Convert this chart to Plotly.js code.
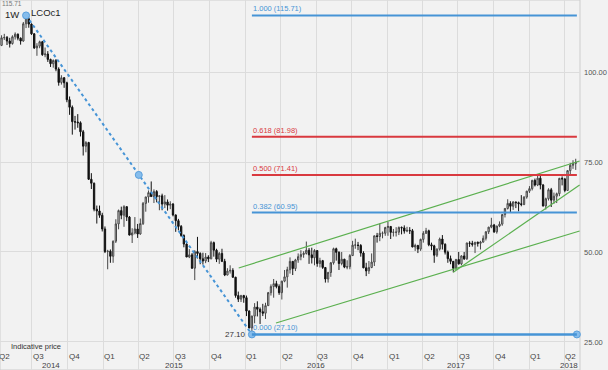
<!DOCTYPE html>
<html>
<head>
<meta charset="utf-8">
<script src="https://cdn.plot.ly/plotly-3.0.1.min.js"></script>
<style>
html,body{margin:0;padding:0;background:#f2f2f2;}
#chart{width:608px;height:370px;outline:1px solid #bdbdbd;outline-offset:-1px;position:relative;}
</style>
</head>
<body>
<div id="chart"></div>
<script>
// ---- Weekly OHLC rows [open, high, low, close], weeks starting Monday 2014-04-14 ----
const ohlc2014 = [
[107.4,110.2,107.2,109.5],[109.5,110.6,108.9,109.6],[109.6,110.0,107.5,108.6],[108.6,109.5,106.8,107.9],
[107.9,110.2,107.6,109.8],[109.8,111.0,109.0,110.5],[110.5,110.7,108.8,109.4],[109.4,109.6,107.6,108.6],
[108.6,113.9,108.4,113.4],[113.4,115.71,112.2,114.8],[114.8,115.2,112.3,113.3],[113.3,113.5,110.3,110.6],
[110.6,110.8,106.4,106.7],[106.7,108.0,104.5,107.2],[107.2,108.7,106.6,108.4],[108.4,108.6,104.5,104.8],
[104.8,106.8,104.1,105.0],[105.0,105.8,102.8,103.5],[103.5,103.7,101.4,102.3],[102.3,103.5,101.2,103.2],
[103.2,103.6,100.2,100.8],[100.8,101.3,96.2,97.1],[97.1,99.1,96.5,98.4],[98.4,98.6,95.6,97.0],
[97.0,97.3,91.6,92.3],[92.3,93.2,88.1,90.2],[90.2,90.7,82.6,86.2],[86.2,87.8,84.0,86.1],
[86.1,88.3,84.5,85.9],[85.9,86.3,82.1,83.4],[83.4,83.9,76.8,79.4],[79.4,80.8,77.7,80.4],
[80.4,80.6,70.0,70.2],[70.2,71.9,67.5,69.1],[69.1,69.3,61.3,61.9],[61.9,62.9,57.9,61.4],
[61.4,62.9,59.5,60.2],[60.2,60.9,55.7,56.4]
];
const ohlc2015 = [
[56.4,57.1,49.7,50.1],[50.1,50.6,45.2,50.2],[50.2,50.7,47.0,48.8],[48.8,53.2,47.0,53.0],
[53.0,59.1,52.5,57.8],[57.8,61.8,56.3,61.5],[61.5,62.6,59.1,60.2],[60.2,63.0,57.0,62.6],
[62.6,62.6,58.6,59.7],[59.7,60.0,54.6,54.7],[54.7,56.6,52.5,55.3],[55.3,59.7,54.9,56.4],
[56.4,57.8,53.9,55.0],[55.0,59.3,54.8,57.9],[57.9,63.9,57.5,63.5],[63.5,65.3,61.2,65.3],
[65.3,67.1,63.7,66.5],[66.5,69.6,65.6,65.4],[65.4,67.4,63.6,66.8],[66.8,67.2,63.8,65.4],
[65.4,65.6,61.6,65.6],[65.6,66.2,61.6,63.3],[63.3,65.8,62.2,63.9],[63.9,64.6,61.5,63.0],
[63.0,64.1,61.9,63.3],[63.3,63.6,59.9,60.3],[60.3,60.4,55.6,58.7],[58.7,59.2,56.0,57.1],
[57.1,57.5,54.2,54.6],[54.6,54.9,51.3,52.2],[52.2,52.5,48.6,48.6],[48.6,50.8,48.3,49.2],
[49.2,49.7,45.3,45.5],[45.5,50.5,42.2,50.1],[50.1,54.2,48.2,49.6],[49.6,49.9,46.6,48.1],
[48.1,49.8,46.5,47.5],[47.5,49.7,46.9,48.6],[48.6,49.1,47.2,48.1],[48.1,53.1,48.0,52.6],
[52.6,52.9,48.7,50.5],[50.5,50.9,47.2,48.0],[48.0,50.0,46.7,49.6],[49.6,50.9,47.2,47.4],
[47.4,48.1,43.3,43.6],[43.6,45.5,43.5,44.7],[44.7,46.3,44.0,44.9],[44.9,45.5,42.8,43.0],
[43.0,43.1,37.3,37.9],[37.9,39.0,36.1,36.9],[36.9,38.1,36.1,37.9],[37.9,38.1,35.9,37.3]
];
const ohlc2016 = [
[37.3,37.9,32.2,33.6],[33.6,33.8,28.8,28.9],[28.9,32.3,27.10,32.2],[32.2,35.8,30.2,34.7],
[34.7,36.3,32.1,34.1],[34.1,34.6,30.0,33.4],[33.4,35.6,32.2,33.0],[33.0,35.9,31.4,35.1],
[35.1,38.9,35.0,38.7],[38.7,41.0,37.9,40.4],[40.4,42.5,37.3,41.2],[41.2,42.0,39.9,40.4],
[40.4,41.0,38.1,38.7],[38.7,42.0,36.8,41.9],[41.9,45.0,41.6,43.1],[43.1,45.9,40.1,45.1],
[45.1,48.5,44.0,47.4],[47.4,47.4,43.6,45.4],[45.4,48.1,44.7,47.8],[47.8,49.6,47.0,48.7],
[48.7,50.5,47.7,49.3],[49.3,50.2,48.4,49.6],[49.6,52.9,49.3,50.5],[50.5,51.1,46.7,49.2],
[49.2,51.2,46.8,48.4],[48.4,50.8,46.3,50.4],[50.4,50.4,45.9,46.8],[46.8,48.4,45.7,47.6],
[47.6,47.8,45.3,45.7],[45.7,45.8,41.5,42.5],[42.5,44.5,41.5,44.3],[44.3,47.2,43.1,47.0],
[47.0,51.2,46.5,50.9],[50.9,51.2,47.6,49.9],[49.9,50.2,45.0,46.8],[46.8,50.0,46.3,48.0],
[48.0,48.1,45.5,45.8],[45.8,47.7,45.2,45.9],[45.9,49.4,45.2,49.0],[49.0,53.1,48.9,51.9],
[51.9,53.7,50.9,51.95],[51.95,52.8,50.5,51.8],[51.8,52.2,48.7,49.7],[49.7,50.2,45.5,45.6],
[45.6,47.0,43.3,44.75],[44.75,47.5,43.9,45.7],[45.7,49.6,45.5,47.2],[47.2,54.5,46.1,54.5],
[54.5,55.3,52.6,54.3],[54.3,57.9,53.0,55.2],[55.2,55.7,53.8,55.2],[55.2,57.0,54.5,56.8]
];
const ohlc2017 = [
[56.8,58.4,54.5,57.1],[57.1,57.1,53.6,55.45],[55.45,56.4,54.3,55.5],[55.5,56.9,54.3,55.5],
[55.5,57.1,54.7,56.8],[56.8,57.1,54.9,56.7],[56.7,57.4,55.1,55.8],[55.8,57.0,55.5,56.0],
[56.0,56.9,55.0,55.9],[55.9,56.4,51.3,51.4],[51.4,52.3,50.3,51.8],[51.8,52.0,49.7,50.8],
[50.8,53.7,50.3,53.5],[53.5,55.8,52.6,55.2],[55.2,56.7,55.0,55.9],[55.9,56.2,51.6,52.0],
[52.0,52.6,50.5,51.7],[51.7,52.0,47.0,49.1],[49.1,51.0,48.6,50.8],[50.8,54.0,50.4,53.6],
[53.6,54.7,50.7,52.15],[52.15,52.4,49.3,49.95],[49.95,50.4,47.0,48.15],[48.15,49.0,46.6,47.4],
[47.4,47.5,44.35,45.5],[45.5,48.1,45.0,47.9],[47.9,50.0,46.5,46.7],[46.7,49.1,46.3,48.9],
[48.9,50.0,47.8,48.1],[48.1,52.6,47.8,52.5],[52.5,53.0,51.4,52.4],[52.4,53.1,51.5,52.1],
[52.1,52.8,49.7,52.7],[52.7,52.9,51.5,52.4],[52.4,53.1,50.7,52.75],[52.75,54.6,52.6,53.8],
[53.8,55.8,53.2,55.6],[55.6,57.0,55.0,56.9],[56.9,59.5,56.6,57.5],[57.5,57.8,55.3,55.6],
[55.6,57.3,55.1,57.2],[57.2,58.5,56.9,57.75],[57.75,60.5,57.3,60.4],[60.4,62.2,59.6,62.1],
[62.1,64.65,61.8,63.5],[63.5,64.1,61.1,62.7],[62.7,64.1,61.7,63.9],[63.9,64.0,62.2,63.7],
[63.7,64.0,61.3,63.4],[63.4,65.8,62.7,63.2],[63.2,65.5,63.0,65.25],[65.25,67.0,64.8,66.9]
];
const ohlc2018 = [
[66.9,68.3,66.4,67.6],[67.6,70.05,67.1,69.9],[69.9,70.4,68.2,68.6],[68.6,71.3,68.3,70.5],
[70.5,71.3,67.4,68.6],[68.6,68.9,62.6,62.8],[62.8,65.1,61.8,64.8],[64.8,67.7,64.3,67.3],
[67.3,67.8,62.5,64.4],[64.4,66.5,63.4,65.5],[65.5,66.5,63.6,66.2],[66.2,70.6,65.5,70.45],
[70.45,71.0,68.5,70.3],[70.3,70.5,66.6,67.1],[67.1,72.7,67.0,72.6],[72.6,74.75,71.4,74.1],
[74.1,75.5,73.1,74.6],[74.6,75.9,72.8,74.9]
];
const firstWeek = '2014-04-14';

// ---- Fibonacci retracement ----
const fibRatios = ['1.000','0.618','0.500','0.382','0.000'];
const fibPrices = [115.71, 81.98, 71.41, 60.95, 27.10];
const fibStart = '2016-01-18';
const fibEnd = '2018-05-03';
// swing high -> swing low (dashed) with midpoint
const swingDates = ['2014-06-16', '2015-04-02', '2016-01-18'];
const swingPrices = [115.71, 71.41, 27.10];

// ---- Trend lines [startDate, startPrice, endDate, endPrice] ----
const upperChannel = ['2015-12-15', 45.56, '2018-05-10', 75.28];
const lowerChannel = ['2016-03-20', 30.28, '2018-05-10', 55.83];
const steepTrend  = ['2017-06-19', 44.35, '2018-05-10', 68.61];

// ---- Axis labels ----
const quarterDates = ['2014-07-01','2014-10-01','2015-01-01','2015-04-01','2015-07-01','2015-10-01',
  '2016-01-01','2016-04-01','2016-07-01','2016-10-01','2017-01-01','2017-04-01','2017-07-01',
  '2017-10-01','2018-01-01','2018-04-01'];
const quarterLabels = ['Q3','Q4','Q1','Q2','Q3','Q4','Q1','Q2','Q3','Q4','Q1','Q2','Q3','Q4','Q1','Q2'];
const firstQuarterLabel = 'Q2';
const yearLabels = ['2014','2015','2016','2017','2018'];
const yearDates = ['2014-08-20','2015-07-01','2016-07-01','2017-06-26','2018-04-12'];
const yTicks = [25, 50, 75, 100];
const yTickText = ['25.00','50.00','75.00','100.00'];
const xRange = ['2014-04-10', '2018-05-11'];
const yRange = [17.22, 120];

// ---- build ----
const rows = [].concat(ohlc2014, ohlc2015, ohlc2016, ohlc2017, ohlc2018);
const t0 = Date.parse(firstWeek + 'T00:00:00Z');
const dates = rows.map((r, i) => new Date(t0 + i * 7 * 86400000).toISOString().slice(0, 10));
const open = rows.map(r => r[0]), high = rows.map(r => r[1]), low = rows.map(r => r[2]), close = rows.map(r => r[3]);

const FONT = 'Liberation Sans, Arial, sans-serif';
const BLUE = '#4694d6', RED = '#d9393f', GREEN = '#5bb04f';
const fibColors = [BLUE, RED, RED, BLUE, BLUE];

const traces = [];
traces.push({
  type: 'candlestick', x: dates, open: open, high: high, low: low, close: close,
  increasing: {line: {color: '#474747', width: 1}, fillcolor: '#dedede'},
  decreasing: {line: {color: '#111111', width: 1}, fillcolor: '#111111'},
  whiskerwidth: 0, hoverinfo: 'skip', showlegend: false
});
function tl(a, col) {
  return {type: 'scatter', mode: 'lines', x: [a[0], a[2]], y: [a[1], a[3]],
    line: {color: col, width: 1.2}, hoverinfo: 'skip', showlegend: false};
}
traces.push(tl(upperChannel, GREEN), tl(lowerChannel, GREEN), tl(steepTrend, GREEN));
// dashed swing line
traces.push({type: 'scatter', mode: 'lines', x: [swingDates[0], swingDates[2]], y: [swingPrices[0], swingPrices[2]],
  line: {color: BLUE, width: 2, dash: '3px,3px'}, hoverinfo: 'skip', showlegend: false});

const shapes = [];
const annotations = [];
fibPrices.forEach((p, i) => {
  shapes.push({type: 'line', xref: 'x', yref: 'y', x0: fibStart, x1: fibEnd, y0: p, y1: p,
    line: {color: fibColors[i], width: i === 4 ? 2.6 : 2}});
  annotations.push({xref: 'x', yref: 'y', x: fibStart, y: p, xanchor: 'left', yanchor: 'bottom',
    text: fibRatios[i] + ' (' + p.toFixed(2) + ')', showarrow: false, yshift: 0, xshift: -1,
    font: {family: FONT, size: 7.5, color: fibColors[i]}});
});
// markers
traces.push({type: 'scatter', mode: 'markers',
  x: swingDates.concat([fibEnd]), y: swingPrices.concat([fibPrices[4]]),
  marker: {symbol: 'circle', size: 7, color: '#86bdec', line: {color: '#5a9fdc', width: 1}},
  hoverinfo: 'skip', showlegend: false, cliponaxis: false});

annotations.push({xref: 'x', yref: 'y', x: swingDates[2], y: swingPrices[2], xanchor: 'right', yanchor: 'middle',
  text: swingPrices[2].toFixed(2), showarrow: false, xshift: -4, font: {family: FONT, size: 8, color: '#333'}});
annotations.push({xref: 'x', yref: 'y', x: swingDates[0], y: swingPrices[0], xanchor: 'right', yanchor: 'bottom',
  text: swingPrices[0].toFixed(2), showarrow: false, xshift: -3, yshift: 7, borderpad: 0,
  font: {family: FONT, size: 6.5, color: '#777'}});

// header texts
annotations.push({xref: 'paper', yref: 'paper', x: 4/580, y: 1 - 14.5/370, xanchor: 'left', yanchor: 'middle',
  text: '1W', showarrow: false, borderpad: 0, font: {family: FONT, size: 9.5, color: '#222'}});
annotations.push({xref: 'paper', yref: 'paper', x: 29/580, y: 1 - 13/370, xanchor: 'left', yanchor: 'middle',
  text: 'LCOc1', showarrow: false, font: {family: FONT, size: 9.5, color: '#222'}});
annotations.push({xref: 'paper', yref: 'paper', x: 9/580, y: 1 - 346/370, xanchor: 'left', yanchor: 'middle',
  text: 'Indicative price', showarrow: false, font: {family: FONT, size: 7.5, color: '#333333'}});

// quarter labels
annotations.push({xref: 'x', yref: 'paper', x: xRange[0], y: 1 - 356/370, xanchor: 'left', yanchor: 'middle',
  text: firstQuarterLabel, showarrow: false, xshift: -3, font: {family: FONT, size: 8, color: '#444'}});
quarterDates.forEach((d, i) => {
  annotations.push({xref: 'x', yref: 'paper', x: d, y: 1 - 356/370, xanchor: 'left', yanchor: 'middle',
    text: quarterLabels[i], showarrow: false, xshift: -1, font: {family: FONT, size: 8, color: '#444'}});
});
yearDates.forEach((d, i) => {
  annotations.push({xref: 'x', yref: 'paper', x: d, y: 1 - 365/370, xanchor: 'center', yanchor: 'middle',
    text: yearLabels[i], showarrow: false, font: {family: FONT, size: 8, color: '#444'}});
});

// plot frame
shapes.push({type: 'rect', xref: 'paper', yref: 'paper', x0: 0, x1: 1, y0: 0, y1: 1,
  line: {color: '#cdcdcd', width: 1}, layer: 'below'});

const layout = {
  width: 608, height: 370,
  margin: {l: 0, r: 28, t: 0, b: 0, pad: 0},
  paper_bgcolor: '#f2f2f2', plot_bgcolor: '#f2f2f2',
  showlegend: false,
  font: {family: FONT},
  xaxis: {type: 'date', range: xRange, tickvals: quarterDates, showticklabels: false, ticks: '',
    showgrid: true, gridcolor: '#dcdcdc', gridwidth: 1, zeroline: false, showline: false,
    rangeslider: {visible: false}, fixedrange: true},
  yaxis: {side: 'right', range: yRange, tickvals: yTicks, ticktext: yTickText, ticks: '',
    ticklabelstandoff: 3, tickfont: {family: FONT, size: 7.5, color: '#555'},
    showgrid: true, gridcolor: '#dcdcdc', zeroline: false, showline: false, fixedrange: true},
  shapes: shapes,
  annotations: annotations
};

Plotly.newPlot('chart', traces, layout, {staticPlot: true, displayModeBar: false});
</script>
</body>
</html>
